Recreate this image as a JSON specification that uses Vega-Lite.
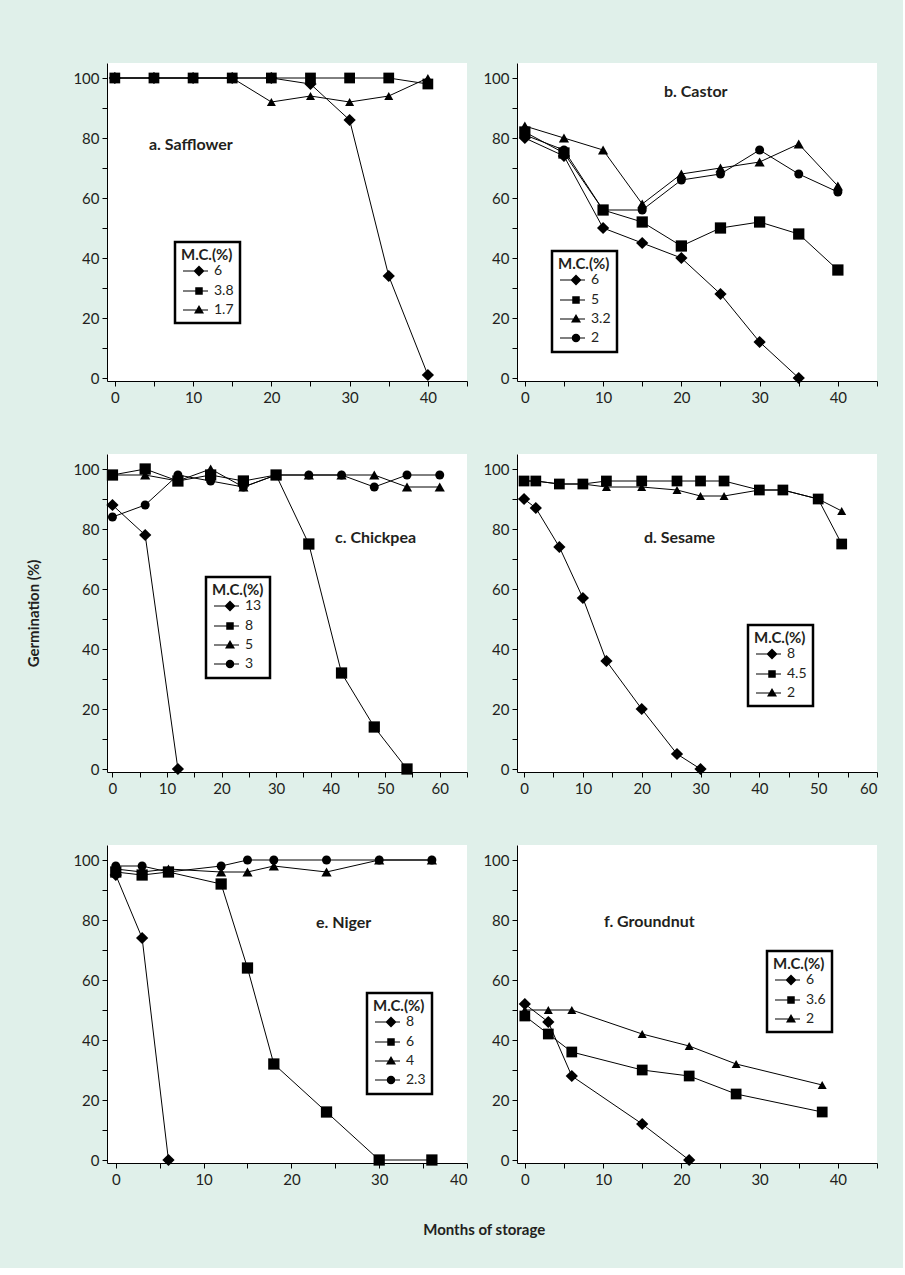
{
  "$schema": "https://vega.github.io/schema/vega-lite/v6.json",
  "background": "#e0f0ea",
  "padding": {"left": 26, "top": 63, "right": 25, "bottom": 30},
  "title": {"text": "Months of storage", "orient": "bottom", "anchor": "middle", "dx": 32, "offset": 36, "baseline": "top", "fontSize": 15, "fontWeight": "bold", "frame": "bounds"},
  "columns": 2,
  "spacing": {"row": 73, "column": 50},
  "bounds": "flush",
  "datasets": {
    "d": [
      {"p":"a","mc":"6","x":0,"y":100},{"p":"a","mc":"6","x":5,"y":100},{"p":"a","mc":"6","x":10,"y":100},{"p":"a","mc":"6","x":15,"y":100},{"p":"a","mc":"6","x":20,"y":100},{"p":"a","mc":"6","x":25,"y":98},{"p":"a","mc":"6","x":30,"y":86},{"p":"a","mc":"6","x":35,"y":34},{"p":"a","mc":"6","x":40,"y":1},
      {"p":"a","mc":"3.8","x":0,"y":100},{"p":"a","mc":"3.8","x":5,"y":100},{"p":"a","mc":"3.8","x":10,"y":100},{"p":"a","mc":"3.8","x":15,"y":100},{"p":"a","mc":"3.8","x":20,"y":100},{"p":"a","mc":"3.8","x":25,"y":100},{"p":"a","mc":"3.8","x":30,"y":100},{"p":"a","mc":"3.8","x":35,"y":100},{"p":"a","mc":"3.8","x":40,"y":98},
      {"p":"a","mc":"1.7","x":0,"y":100},{"p":"a","mc":"1.7","x":5,"y":100},{"p":"a","mc":"1.7","x":10,"y":100},{"p":"a","mc":"1.7","x":15,"y":100},{"p":"a","mc":"1.7","x":20,"y":92},{"p":"a","mc":"1.7","x":25,"y":94},{"p":"a","mc":"1.7","x":30,"y":92},{"p":"a","mc":"1.7","x":35,"y":94},{"p":"a","mc":"1.7","x":40,"y":100},

      {"p":"b","mc":"6","x":0,"y":80},{"p":"b","mc":"6","x":5,"y":74},{"p":"b","mc":"6","x":10,"y":50},{"p":"b","mc":"6","x":15,"y":45},{"p":"b","mc":"6","x":20,"y":40},{"p":"b","mc":"6","x":25,"y":28},{"p":"b","mc":"6","x":30,"y":12},{"p":"b","mc":"6","x":35,"y":0},
      {"p":"b","mc":"5","x":0,"y":82},{"p":"b","mc":"5","x":5,"y":75},{"p":"b","mc":"5","x":10,"y":56},{"p":"b","mc":"5","x":15,"y":52},{"p":"b","mc":"5","x":20,"y":44},{"p":"b","mc":"5","x":25,"y":50},{"p":"b","mc":"5","x":30,"y":52},{"p":"b","mc":"5","x":35,"y":48},{"p":"b","mc":"5","x":40,"y":36},
      {"p":"b","mc":"3.2","x":0,"y":84},{"p":"b","mc":"3.2","x":5,"y":80},{"p":"b","mc":"3.2","x":10,"y":76},{"p":"b","mc":"3.2","x":15,"y":58},{"p":"b","mc":"3.2","x":20,"y":68},{"p":"b","mc":"3.2","x":25,"y":70},{"p":"b","mc":"3.2","x":30,"y":72},{"p":"b","mc":"3.2","x":35,"y":78},{"p":"b","mc":"3.2","x":40,"y":64},
      {"p":"b","mc":"2","x":0,"y":81},{"p":"b","mc":"2","x":5,"y":76},{"p":"b","mc":"2","x":10,"y":56},{"p":"b","mc":"2","x":15,"y":56},{"p":"b","mc":"2","x":20,"y":66},{"p":"b","mc":"2","x":25,"y":68},{"p":"b","mc":"2","x":30,"y":76},{"p":"b","mc":"2","x":35,"y":68},{"p":"b","mc":"2","x":40,"y":62},

      {"p":"c","mc":"13","x":0,"y":88},{"p":"c","mc":"13","x":6,"y":78},{"p":"c","mc":"13","x":12,"y":0},
      {"p":"c","mc":"8","x":0,"y":98},{"p":"c","mc":"8","x":6,"y":100},{"p":"c","mc":"8","x":12,"y":96},{"p":"c","mc":"8","x":18,"y":98},{"p":"c","mc":"8","x":24,"y":96},{"p":"c","mc":"8","x":30,"y":98},{"p":"c","mc":"8","x":36,"y":75},{"p":"c","mc":"8","x":42,"y":32},{"p":"c","mc":"8","x":48,"y":14},{"p":"c","mc":"8","x":54,"y":0},
      {"p":"c","mc":"5","x":0,"y":98},{"p":"c","mc":"5","x":6,"y":98},{"p":"c","mc":"5","x":12,"y":96},{"p":"c","mc":"5","x":18,"y":100},{"p":"c","mc":"5","x":24,"y":94},{"p":"c","mc":"5","x":30,"y":98},{"p":"c","mc":"5","x":36,"y":98},{"p":"c","mc":"5","x":42,"y":98},{"p":"c","mc":"5","x":48,"y":98},{"p":"c","mc":"5","x":54,"y":94},{"p":"c","mc":"5","x":60,"y":94},
      {"p":"c","mc":"3","x":0,"y":84},{"p":"c","mc":"3","x":6,"y":88},{"p":"c","mc":"3","x":12,"y":98},{"p":"c","mc":"3","x":18,"y":96},{"p":"c","mc":"3","x":24,"y":94},{"p":"c","mc":"3","x":30,"y":98},{"p":"c","mc":"3","x":36,"y":98},{"p":"c","mc":"3","x":42,"y":98},{"p":"c","mc":"3","x":48,"y":94},{"p":"c","mc":"3","x":54,"y":98},{"p":"c","mc":"3","x":60,"y":98},

      {"p":"d","mc":"8","x":0,"y":90},{"p":"d","mc":"8","x":2,"y":87},{"p":"d","mc":"8","x":6,"y":74},{"p":"d","mc":"8","x":10,"y":57},{"p":"d","mc":"8","x":14,"y":36},{"p":"d","mc":"8","x":20,"y":20},{"p":"d","mc":"8","x":26,"y":5},{"p":"d","mc":"8","x":30,"y":0},
      {"p":"d","mc":"4.5","x":0,"y":96},{"p":"d","mc":"4.5","x":2,"y":96},{"p":"d","mc":"4.5","x":6,"y":95},{"p":"d","mc":"4.5","x":10,"y":95},{"p":"d","mc":"4.5","x":14,"y":96},{"p":"d","mc":"4.5","x":20,"y":96},{"p":"d","mc":"4.5","x":26,"y":96},{"p":"d","mc":"4.5","x":30,"y":96},{"p":"d","mc":"4.5","x":34,"y":96},{"p":"d","mc":"4.5","x":40,"y":93},{"p":"d","mc":"4.5","x":44,"y":93},{"p":"d","mc":"4.5","x":50,"y":90},{"p":"d","mc":"4.5","x":54,"y":75},
      {"p":"d","mc":"2","x":0,"y":96},{"p":"d","mc":"2","x":2,"y":96},{"p":"d","mc":"2","x":6,"y":95},{"p":"d","mc":"2","x":10,"y":95},{"p":"d","mc":"2","x":14,"y":94},{"p":"d","mc":"2","x":20,"y":94},{"p":"d","mc":"2","x":26,"y":93},{"p":"d","mc":"2","x":30,"y":91},{"p":"d","mc":"2","x":34,"y":91},{"p":"d","mc":"2","x":40,"y":93},{"p":"d","mc":"2","x":44,"y":93},{"p":"d","mc":"2","x":50,"y":90},{"p":"d","mc":"2","x":54,"y":86},

      {"p":"e","mc":"8","x":0,"y":95},{"p":"e","mc":"8","x":3,"y":74},{"p":"e","mc":"8","x":6,"y":0},
      {"p":"e","mc":"6","x":0,"y":96},{"p":"e","mc":"6","x":3,"y":95},{"p":"e","mc":"6","x":6,"y":96},{"p":"e","mc":"6","x":12,"y":92},{"p":"e","mc":"6","x":15,"y":64},{"p":"e","mc":"6","x":18,"y":32},{"p":"e","mc":"6","x":24,"y":16},{"p":"e","mc":"6","x":30,"y":0},{"p":"e","mc":"6","x":36,"y":0},
      {"p":"e","mc":"4","x":0,"y":97},{"p":"e","mc":"4","x":3,"y":96},{"p":"e","mc":"4","x":6,"y":97},{"p":"e","mc":"4","x":12,"y":96},{"p":"e","mc":"4","x":15,"y":96},{"p":"e","mc":"4","x":18,"y":98},{"p":"e","mc":"4","x":24,"y":96},{"p":"e","mc":"4","x":30,"y":100},{"p":"e","mc":"4","x":36,"y":100},
      {"p":"e","mc":"2.3","x":0,"y":98},{"p":"e","mc":"2.3","x":3,"y":98},{"p":"e","mc":"2.3","x":6,"y":96},{"p":"e","mc":"2.3","x":12,"y":98},{"p":"e","mc":"2.3","x":15,"y":100},{"p":"e","mc":"2.3","x":18,"y":100},{"p":"e","mc":"2.3","x":24,"y":100},{"p":"e","mc":"2.3","x":30,"y":100},{"p":"e","mc":"2.3","x":36,"y":100},

      {"p":"f","mc":"6","x":0,"y":52},{"p":"f","mc":"6","x":3,"y":46},{"p":"f","mc":"6","x":6,"y":28},{"p":"f","mc":"6","x":15,"y":12},{"p":"f","mc":"6","x":21,"y":0},
      {"p":"f","mc":"3.6","x":0,"y":48},{"p":"f","mc":"3.6","x":3,"y":42},{"p":"f","mc":"3.6","x":6,"y":36},{"p":"f","mc":"3.6","x":15,"y":30},{"p":"f","mc":"3.6","x":21,"y":28},{"p":"f","mc":"3.6","x":27,"y":22},{"p":"f","mc":"3.6","x":38,"y":16},
      {"p":"f","mc":"2","x":0,"y":50},{"p":"f","mc":"2","x":3,"y":50},{"p":"f","mc":"2","x":6,"y":50},{"p":"f","mc":"2","x":15,"y":42},{"p":"f","mc":"2","x":21,"y":38},{"p":"f","mc":"2","x":27,"y":32},{"p":"f","mc":"2","x":38,"y":25}
    ]
  },
  "concat": [
    {
      "width": 360, "height": 318,
      "title": {"text": "a. Safflower", "dx": 42, "dy": 94},
      "data": {"name": "d"},
      "transform": [{"filter": "datum.p == 'a'"}],
      "encoding": {
        "x": {"field": "x", "type": "quantitative", "scale": {"domain": [-1, 45], "nice": false, "zero": false}, "axis": {"values": [0,5,10,15,20,25,30,35,40,45], "title": null}},
        "y": {"field": "y", "type": "quantitative", "scale": {"domain": [-1, 105], "nice": false, "zero": false}, "axis": {"values": [0,10,20,30,40,50,60,70,80,90,100], "title": null}}
      },
      "layer": [
        {"mark": {"type": "line", "color": "black", "strokeWidth": 1}, "encoding": {"detail": {"field": "mc"}}},
        {"mark": {"type": "point", "filled": true, "color": "black", "opacity": 1},
         "encoding": {"shape": {"field": "mc", "type": "nominal", "scale": {"domain": ["6","3.8","1.7"], "range": ["diamond","square","triangle-up"]}, "legend": null},
                      "size": {"field": "mc", "type": "ordinal", "scale": {"domain": ["6","3.8","1.7"], "range": [150,81,95]}, "legend": null}}},
        {"transform": [{"filter": "datum.y < -50"}],
         "mark": {"type": "point", "filled": true, "color": "black", "opacity": 1},
         "encoding": {"shape": {"field": "mc", "type": "nominal", "scale": {"domain": ["6","3.8","1.7"], "range": ["M-1,-0.1H4V0.1H-1ZM2.2,-1.1L3.3,0L2.2,1.1L1.1,0Z","M-1,-0.1H4V0.1H-1ZM1.45,-0.75H2.95V0.75H1.45Z","M-1,-0.1H4V0.1H-1ZM2.2,-1L3.2,0.7H1.2Z"]},
                      "legend": {"title": "M.C.(%)", "legendX": 68, "legendY": 179}}}}
      ],
      "resolve": {"scale": {"shape": "independent", "size": "independent"}, "legend": {"shape": "independent"}}
    },
    {
      "width": 360, "height": 318,
      "title": {"text": "b. Castor", "dx": 147, "dy": 41},
      "data": {"name": "d"},
      "transform": [{"filter": "datum.p == 'b'"}],
      "encoding": {
        "x": {"field": "x", "type": "quantitative", "scale": {"domain": [-1, 45], "nice": false, "zero": false}, "axis": {"values": [0,5,10,15,20,25,30,35,40,45], "title": null}},
        "y": {"field": "y", "type": "quantitative", "scale": {"domain": [-1, 105], "nice": false, "zero": false}, "axis": {"values": [0,10,20,30,40,50,60,70,80,90,100], "title": null}}
      },
      "layer": [
        {"mark": {"type": "line", "color": "black", "strokeWidth": 1}, "encoding": {"detail": {"field": "mc"}}},
        {"mark": {"type": "point", "filled": true, "color": "black", "opacity": 1},
         "encoding": {"shape": {"field": "mc", "type": "nominal", "scale": {"domain": ["6","5","3.2","2"], "range": ["diamond","square","triangle-up","circle"]}, "legend": null},
                      "size": {"field": "mc", "type": "ordinal", "scale": {"domain": ["6","5","3.2","2"], "range": [150,81,95,100]}, "legend": null}}},
        {"transform": [{"filter": "datum.y < -50"}],
         "mark": {"type": "point", "filled": true, "color": "black", "opacity": 1},
         "encoding": {"shape": {"field": "mc", "type": "nominal", "scale": {"domain": ["6","5","3.2","2"], "range": ["M-1,-0.1H4V0.1H-1ZM2.2,-1.1L3.3,0L2.2,1.1L1.1,0Z","M-1,-0.1H4V0.1H-1ZM1.45,-0.75H2.95V0.75H1.45Z","M-1,-0.1H4V0.1H-1ZM2.2,-1L3.2,0.7H1.2Z","M-1,-0.1H4V0.1H-1ZM3.05,0A0.85,0.85 0 1,1 1.35,0A0.85,0.85 0 1,1 3.05,0Z"]},
                      "legend": {"title": "M.C.(%)", "legendX": 35, "legendY": 188}}}}
      ],
      "resolve": {"scale": {"shape": "independent", "size": "independent"}, "legend": {"shape": "independent"}}
    },
    {
      "width": 360, "height": 318,
      "title": {"text": "c. Chickpea", "dx": 228, "dy": 96},
      "data": {"name": "d"},
      "transform": [{"filter": "datum.p == 'c'"}],
      "encoding": {
        "x": {"field": "x", "type": "quantitative", "scale": {"domain": [-1, 65], "nice": false, "zero": false}, "axis": {"values": [0,5,10,15,20,25,30,35,40,45,50,55,60,65], "title": null}},
        "y": {"field": "y", "type": "quantitative", "scale": {"domain": [-1, 105], "nice": false, "zero": false}, "axis": {"values": [0,10,20,30,40,50,60,70,80,90,100], "title": "Germination (%)", "titlePadding": 31}}
      },
      "layer": [
        {"mark": {"type": "line", "color": "black", "strokeWidth": 1}, "encoding": {"detail": {"field": "mc"}}},
        {"mark": {"type": "point", "filled": true, "color": "black", "opacity": 1},
         "encoding": {"shape": {"field": "mc", "type": "nominal", "scale": {"domain": ["13","8","5","3"], "range": ["diamond","square","triangle-up","circle"]}, "legend": null},
                      "size": {"field": "mc", "type": "ordinal", "scale": {"domain": ["13","8","5","3"], "range": [150,81,95,100]}, "legend": null}}},
        {"transform": [{"filter": "datum.y < -50"}],
         "mark": {"type": "point", "filled": true, "color": "black", "opacity": 1},
         "encoding": {"shape": {"field": "mc", "type": "nominal", "scale": {"domain": ["13","8","5","3"], "range": ["M-1,-0.1H4V0.1H-1ZM2.2,-1.1L3.3,0L2.2,1.1L1.1,0Z","M-1,-0.1H4V0.1H-1ZM1.45,-0.75H2.95V0.75H1.45Z","M-1,-0.1H4V0.1H-1ZM2.2,-1L3.2,0.7H1.2Z","M-1,-0.1H4V0.1H-1ZM3.05,0A0.85,0.85 0 1,1 1.35,0A0.85,0.85 0 1,1 3.05,0Z"]},
                      "legend": {"title": "M.C.(%)", "legendX": 99, "legendY": 123}}}}
      ],
      "resolve": {"scale": {"shape": "independent", "size": "independent"}, "legend": {"shape": "independent"}}
    },
    {
      "width": 360, "height": 318,
      "title": {"text": "d. Sesame", "dx": 127, "dy": 96},
      "data": {"name": "d"},
      "transform": [{"filter": "datum.p == 'd'"}],
      "encoding": {
        "x": {"field": "x", "type": "quantitative", "scale": {"domain": [-1.2, 60], "nice": false, "zero": false}, "axis": {"values": [0,5,10,15,20,25,30,35,40,45,50,55,60], "title": null}},
        "y": {"field": "y", "type": "quantitative", "scale": {"domain": [-1, 105], "nice": false, "zero": false}, "axis": {"values": [0,10,20,30,40,50,60,70,80,90,100], "title": null}}
      },
      "layer": [
        {"mark": {"type": "line", "color": "black", "strokeWidth": 1}, "encoding": {"detail": {"field": "mc"}}},
        {"mark": {"type": "point", "filled": true, "color": "black", "opacity": 1},
         "encoding": {"shape": {"field": "mc", "type": "nominal", "scale": {"domain": ["8","4.5","2"], "range": ["diamond","square","triangle-up"]}, "legend": null},
                      "size": {"field": "mc", "type": "ordinal", "scale": {"domain": ["8","4.5","2"], "range": [150,81,95]}, "legend": null}}},
        {"transform": [{"filter": "datum.y < -50"}],
         "mark": {"type": "point", "filled": true, "color": "black", "opacity": 1},
         "encoding": {"shape": {"field": "mc", "type": "nominal", "scale": {"domain": ["8","4.5","2"], "range": ["M-1,-0.1H4V0.1H-1ZM2.2,-1.1L3.3,0L2.2,1.1L1.1,0Z","M-1,-0.1H4V0.1H-1ZM1.45,-0.75H2.95V0.75H1.45Z","M-1,-0.1H4V0.1H-1ZM2.2,-1L3.2,0.7H1.2Z"]},
                      "legend": {"title": "M.C.(%)", "legendX": 231, "legendY": 171}}}}
      ],
      "resolve": {"scale": {"shape": "independent", "size": "independent"}, "legend": {"shape": "independent"}}
    },
    {
      "width": 360, "height": 318,
      "title": {"text": "e. Niger", "dx": 209, "dy": 90},
      "data": {"name": "d"},
      "transform": [{"filter": "datum.p == 'e'"}],
      "encoding": {
        "x": {"field": "x", "type": "quantitative", "scale": {"domain": [-1, 40], "nice": false, "zero": false}, "axis": {"values": [0,5,10,15,20,25,30,35,40], "title": null}},
        "y": {"field": "y", "type": "quantitative", "scale": {"domain": [-1, 105], "nice": false, "zero": false}, "axis": {"values": [0,10,20,30,40,50,60,70,80,90,100], "title": null}}
      },
      "layer": [
        {"mark": {"type": "line", "color": "black", "strokeWidth": 1}, "encoding": {"detail": {"field": "mc"}}},
        {"mark": {"type": "point", "filled": true, "color": "black", "opacity": 1},
         "encoding": {"shape": {"field": "mc", "type": "nominal", "scale": {"domain": ["8","6","4","2.3"], "range": ["diamond","square","triangle-up","circle"]}, "legend": null},
                      "size": {"field": "mc", "type": "ordinal", "scale": {"domain": ["8","6","4","2.3"], "range": [150,81,95,100]}, "legend": null}}},
        {"transform": [{"filter": "datum.y < -50"}],
         "mark": {"type": "point", "filled": true, "color": "black", "opacity": 1},
         "encoding": {"shape": {"field": "mc", "type": "nominal", "scale": {"domain": ["8","6","4","2.3"], "range": ["M-1,-0.1H4V0.1H-1ZM2.2,-1.1L3.3,0L2.2,1.1L1.1,0Z","M-1,-0.1H4V0.1H-1ZM1.45,-0.75H2.95V0.75H1.45Z","M-1,-0.1H4V0.1H-1ZM2.2,-1L3.2,0.7H1.2Z","M-1,-0.1H4V0.1H-1ZM3.05,0A0.85,0.85 0 1,1 1.35,0A0.85,0.85 0 1,1 3.05,0Z"]},
                      "legend": {"title": "M.C.(%)", "legendX": 260, "legendY": 148}}}}
      ],
      "resolve": {"scale": {"shape": "independent", "size": "independent"}, "legend": {"shape": "independent"}}
    },
    {
      "width": 360, "height": 318,
      "title": {"text": "f. Groundnut", "dx": 87, "dy": 89},
      "data": {"name": "d"},
      "transform": [{"filter": "datum.p == 'f'"}],
      "encoding": {
        "x": {"field": "x", "type": "quantitative", "scale": {"domain": [-1, 45], "nice": false, "zero": false}, "axis": {"values": [0,5,10,15,20,25,30,35,40,45], "title": null}},
        "y": {"field": "y", "type": "quantitative", "scale": {"domain": [-1, 105], "nice": false, "zero": false}, "axis": {"values": [0,10,20,30,40,50,60,70,80,90,100], "title": null}}
      },
      "layer": [
        {"mark": {"type": "line", "color": "black", "strokeWidth": 1}, "encoding": {"detail": {"field": "mc"}}},
        {"mark": {"type": "point", "filled": true, "color": "black", "opacity": 1},
         "encoding": {"shape": {"field": "mc", "type": "nominal", "scale": {"domain": ["6","3.6","2"], "range": ["diamond","square","triangle-up"]}, "legend": null},
                      "size": {"field": "mc", "type": "ordinal", "scale": {"domain": ["6","3.6","2"], "range": [150,81,95]}, "legend": null}}},
        {"transform": [{"filter": "datum.y < -50"}],
         "mark": {"type": "point", "filled": true, "color": "black", "opacity": 1},
         "encoding": {"shape": {"field": "mc", "type": "nominal", "scale": {"domain": ["6","3.6","2"], "range": ["M-1,-0.1H4V0.1H-1ZM2.2,-1.1L3.3,0L2.2,1.1L1.1,0Z","M-1,-0.1H4V0.1H-1ZM1.45,-0.75H2.95V0.75H1.45Z","M-1,-0.1H4V0.1H-1ZM2.2,-1L3.2,0.7H1.2Z"]},
                      "legend": {"title": "M.C.(%)", "legendX": 250, "legendY": 106}}}}
      ],
      "resolve": {"scale": {"shape": "independent", "size": "independent"}, "legend": {"shape": "independent"}}
    }
  ],
  "config": {
    "font": "Lato",
    "view": {"fill": "white", "stroke": null},
    "axis": {"domainColor": "black", "tickColor": "black", "labelColor": "#231f20", "labelFont": "Lato", "labelFontSize": 15, "tickSize": 5, "grid": false, "domainWidth": 1, "tickWidth": 1, "labelPadding": 3, "titleFont": "Lato", "titleFontSize": 15, "titleFontWeight": "bold", "titleColor": "#231f20"},
    "axisY": {"labelExpr": "datum.value % 20 == 0 ? datum.label : ''"},
    "axisX": {"labelExpr": "datum.value % 10 == 0 ? datum.label : ''", "labelPadding": 4},
    "legend": {"orient": "none", "padding": 6, "strokeColor": "black", "strokeWidth": 2.5, "fillColor": "white", "titleFont": "Lato", "titleFontSize": 15, "titleFontWeight": "bold", "labelFont": "Lato", "labelFontSize": 14, "symbolSize": 100, "labelOffset": 19, "rowPadding": 4, "titlePadding": 1, "labelColor": "#231f20", "titleColor": "#231f20", "symbolFillColor": "black", "symbolOpacity": 1},
    "title": {"font": "Lato", "fontSize": 16, "fontWeight": "bold", "color": "#231f20", "anchor": "start", "offset": 0, "baseline": "middle", "frame": "group"}
  }
}
